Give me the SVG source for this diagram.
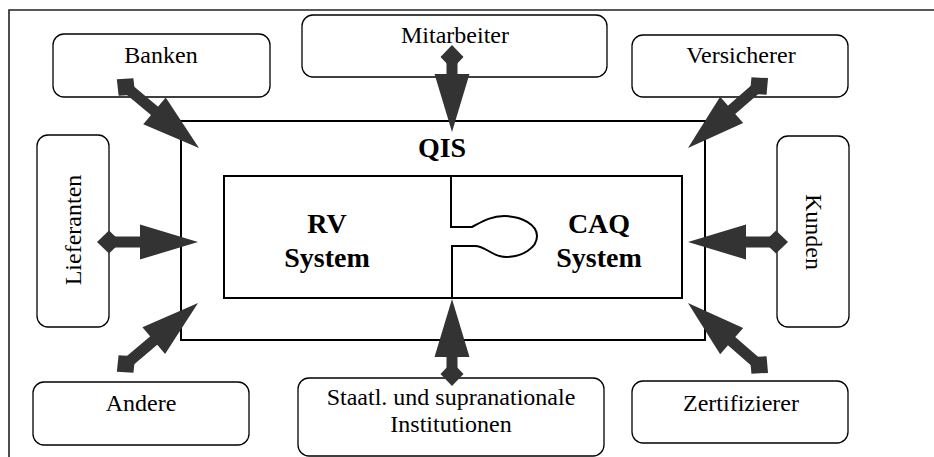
<svg xmlns="http://www.w3.org/2000/svg" width="934" height="457" viewBox="0 0 934 457">
<style>
.box{fill:#fff;stroke:#000;stroke-width:1.3}
.sys{fill:none;stroke:#000;stroke-width:2}
.lbl{font-family:"Liberation Serif","Times New Roman",serif;font-size:24px;fill:#000;text-anchor:middle}
.big{font-family:"Liberation Serif","Times New Roman",serif;font-size:28px;font-weight:bold;fill:#000;text-anchor:middle}
.arr{stroke:#333;stroke-width:11;fill:none;marker-start:url(#dia);marker-end:url(#head)}
</style>
<defs>
<marker id="head" markerUnits="userSpaceOnUse" markerWidth="58" markerHeight="35" refX="18" refY="17.5" orient="auto" overflow="visible"><path d="M0,0 L58,17.5 L0,35 Z" fill="#333"/></marker>
<marker id="dia" markerUnits="userSpaceOnUse" markerWidth="24" markerHeight="23" refX="12" refY="11.5" orient="auto" overflow="visible"><path d="M0,11.5 L12,0 L24,11.5 L12,23 Z" fill="#333"/></marker>
</defs>
<rect width="934" height="457" fill="#fff"/>
<path d="M9,457 V10 H934" fill="none" stroke="#222" stroke-width="1.6"/>
<g id="banken"><rect class="box" x="53" y="34" width="217" height="63" rx="11"/><text class="lbl" x="161" y="63">Banken</text></g>
<g id="mitarbeiter"><rect class="box" x="302" y="15" width="305" height="62" rx="11"/><text class="lbl" x="455" y="43">Mitarbeiter</text></g>
<g id="versicherer"><rect class="box" x="632" y="35" width="216" height="62" rx="11"/><text class="lbl" x="741" y="63">Versicherer</text></g>
<g id="lieferanten"><rect class="box" x="37" y="135" width="72" height="192" rx="11"/><text class="lbl" transform="translate(81,230) rotate(-90)">Lieferanten</text></g>
<g id="kunden"><rect class="box" x="777" y="136" width="72" height="191" rx="11"/><text class="lbl" transform="translate(806,232) rotate(90)">Kunden</text></g>
<g id="andere"><rect class="box" x="33" y="382" width="216" height="63" rx="11"/><text class="lbl" x="141" y="411">Andere</text></g>
<g id="staatl"><rect class="box" x="298" y="378" width="306" height="78" rx="11"/><text class="lbl" x="451" y="405">Staatl. und supranationale</text><text class="lbl" x="451" y="432">Institutionen</text></g>
<g id="zertifizierer"><rect class="box" x="632" y="381" width="216" height="62" rx="11"/><text class="lbl" x="741" y="411">Zertifizierer</text></g>
<g id="qis"><rect class="sys" x="181" y="121" width="524" height="219"/><text class="big" x="442" y="157">QIS</text></g>
<g id="rv-caq"><rect class="sys" x="224" y="176" width="458" height="122"/>
<path class="sys" d="M451,176 V227 H472 C480,223 490,216 504,216 C522,216 537,225 537,236 C537,248 522,257 506,257 C492,257 486,246 475,246 H452 V298"/>
<text class="big" x="327" y="233">RV</text><text class="big" x="327" y="267">System</text>
<text class="big" x="599" y="233">CAQ</text><text class="big" x="599" y="267">System</text></g>
<g id="connectors">
<line class="arr" x1="109" y1="242" x2="158" y2="242"/>
<line class="arr" x1="776" y1="242" x2="728" y2="242"/>
<line class="arr" x1="452" y1="57" x2="452" y2="92"/>
<line class="arr" x1="452" y1="374" x2="452" y2="339"/>
<line class="arr" x1="126" y1="87" x2="168.3" y2="122.4"/>
<line class="arr" x1="759" y1="86" x2="718.1" y2="121.7"/>
<line class="arr" x1="126" y1="364" x2="167.5" y2="328.9"/>
<line class="arr" x1="759" y1="365" x2="718.1" y2="329.3"/>
</g>
</svg>
